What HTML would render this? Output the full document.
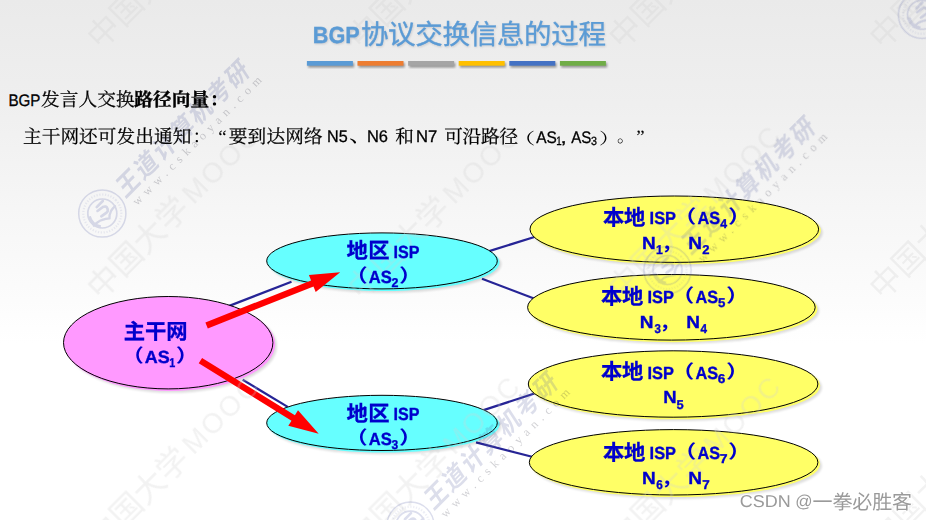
<!DOCTYPE html>
<html lang="zh-CN">
<head>
<meta charset="utf-8">
<title>BGP协议交换信息的过程</title>
<style>
html,body{margin:0;padding:0;background:#fff}
body{width:926px;height:520px;overflow:hidden;font-family:"Liberation Sans","Noto Sans CJK SC",sans-serif}
#slide{position:relative;width:926px;height:520px;overflow:hidden;
  background:linear-gradient(180deg,#eaeaea 0%,#efefef 20%,#f6f6f6 40%,#fbfbfb 55%,#ffffff 66%,#ffffff 100%)}
#slide svg{position:absolute;left:0;top:0;width:926px;height:520px;display:block}
#slide text{font-family:"Liberation Sans","Noto Sans CJK SC",sans-serif;text-rendering:geometricPrecision}
</style>
</head>
<body>
<div id="slide">
<svg width="926" height="520" viewBox="0 0 926 520">
<defs>
<filter id="sh" x="-10%" y="-20%" width="125%" height="150%"><feGaussianBlur stdDeviation="1.3"/></filter>
<filter id="esh" x="-10%" y="-20%" width="125%" height="150%"><feGaussianBlur stdDeviation="0.9"/></filter>
<filter id="tsh" x="-5%" y="-20%" width="110%" height="150%"><feGaussianBlur stdDeviation="0.8"/></filter>
</defs>
<line x1="228" y1="306.4" x2="291.5" y2="281.7" stroke="#262496" stroke-width="2.2"/>
<line x1="242.7" y1="379.8" x2="287.7" y2="406.9" stroke="#262496" stroke-width="2.2"/>
<line x1="486" y1="252.1" x2="536" y2="236.5" stroke="#262496" stroke-width="2.2"/>
<line x1="482" y1="278.7" x2="536" y2="299.2" stroke="#262496" stroke-width="2.2"/>
<line x1="482" y1="410.6" x2="536" y2="393.0" stroke="#262496" stroke-width="2.2"/>
<line x1="476" y1="442.4" x2="534" y2="457.2" stroke="#262496" stroke-width="2.2"/>
<ellipse cx="171.79999999999998" cy="346.09999999999997" rx="105.2" ry="46.7" fill="#000" opacity=".13" filter="url(#esh)"/>
<ellipse cx="385.6" cy="264.29999999999995" rx="115.8" ry="28.5" fill="#000" opacity=".13" filter="url(#esh)"/>
<ellipse cx="385.6" cy="426.29999999999995" rx="115.8" ry="28.1" fill="#000" opacity=".13" filter="url(#esh)"/>
<ellipse cx="677.9" cy="232.6" rx="144.8" ry="33.7" fill="#000" opacity=".13" filter="url(#esh)"/>
<ellipse cx="675.0" cy="310.7" rx="144.3" ry="33.3" fill="#000" opacity=".13" filter="url(#esh)"/>
<ellipse cx="676.7" cy="387.4" rx="145.3" ry="33.7" fill="#000" opacity=".13" filter="url(#esh)"/>
<ellipse cx="677.2" cy="465.7" rx="144.8" ry="33.2" fill="#000" opacity=".13" filter="url(#esh)"/>
<ellipse cx="170.0" cy="344.3" rx="105.2" ry="46.7" fill="#ff99ff"/>
<ellipse cx="383.8" cy="262.5" rx="115.8" ry="28.5" fill="#66ffff"/>
<ellipse cx="383.8" cy="424.5" rx="115.8" ry="28.1" fill="#66ffff"/>
<ellipse cx="676.0999999999999" cy="230.79999999999998" rx="144.8" ry="33.7" fill="#ffff66"/>
<ellipse cx="673.1999999999999" cy="308.90000000000003" rx="144.3" ry="33.3" fill="#ffff66"/>
<ellipse cx="674.9" cy="385.6" rx="145.3" ry="33.7" fill="#ffff66"/>
<ellipse cx="675.4" cy="463.90000000000003" rx="144.8" ry="33.2" fill="#ffff66"/>
<ellipse cx="168.2" cy="342.7" rx="104.7" ry="46.2" fill="#ff99ff" stroke="#000" stroke-width="1"/>
<ellipse cx="382" cy="260.9" rx="115.3" ry="28.0" fill="#66ffff" stroke="#000" stroke-width="1"/>
<ellipse cx="382" cy="422.9" rx="115.3" ry="27.6" fill="#66ffff" stroke="#000" stroke-width="1"/>
<ellipse cx="674.3" cy="229.2" rx="144.3" ry="33.2" fill="#ffff66" stroke="#000" stroke-width="1"/>
<ellipse cx="671.4" cy="307.3" rx="143.8" ry="32.8" fill="#ffff66" stroke="#000" stroke-width="1"/>
<ellipse cx="673.1" cy="384.0" rx="144.8" ry="33.2" fill="#ffff66" stroke="#000" stroke-width="1"/>
<ellipse cx="673.6" cy="462.3" rx="144.3" ry="32.7" fill="#ffff66" stroke="#000" stroke-width="1"/>
<polygon fill="#ff0000" points="207.8,328.5 313.5,286.4 315.7,291.9 340.2,272.3 308.9,274.9 311.1,280.4 205.4,322.5"/>
<polygon fill="#ff0000" points="198.7,363.3 291.5,420.7 288.3,425.8 318.7,433.8 298.0,410.2 294.9,415.3 202.1,357.9"/>
<g fill="#d2d2d2" opacity=".29">
<g transform="translate(171.7 -37.5) rotate(-45)">
<text x="-112.7" y="12.16" font-size="32" letter-spacing="0.2">中国大学</text>
<text x="21" y="10" font-size="28" letter-spacing="2.5">MOOC</text>
</g>
<g transform="translate(171.7 213.0) rotate(-45)">
<text x="-112.7" y="12.16" font-size="32" letter-spacing="0.2">中国大学</text>
<text x="21" y="10" font-size="28" letter-spacing="2.5">MOOC</text>
</g>
<g transform="translate(171.7 463.5) rotate(-45)">
<text x="-112.7" y="12.16" font-size="32" letter-spacing="0.2">中国大学</text>
<text x="21" y="10" font-size="28" letter-spacing="2.5">MOOC</text>
</g>
<g transform="translate(432.4 -37.5) rotate(-45)">
<text x="-112.7" y="12.16" font-size="32" letter-spacing="0.2">中国大学</text>
<text x="21" y="10" font-size="28" letter-spacing="2.5">MOOC</text>
</g>
<g transform="translate(432.4 213.0) rotate(-45)">
<text x="-112.7" y="12.16" font-size="32" letter-spacing="0.2">中国大学</text>
<text x="21" y="10" font-size="28" letter-spacing="2.5">MOOC</text>
</g>
<g transform="translate(432.4 463.5) rotate(-45)">
<text x="-112.7" y="12.16" font-size="32" letter-spacing="0.2">中国大学</text>
<text x="21" y="10" font-size="28" letter-spacing="2.5">MOOC</text>
</g>
<g transform="translate(693.1 -37.5) rotate(-45)">
<text x="-112.7" y="12.16" font-size="32" letter-spacing="0.2">中国大学</text>
<text x="21" y="10" font-size="28" letter-spacing="2.5">MOOC</text>
</g>
<g transform="translate(693.1 213.0) rotate(-45)">
<text x="-112.7" y="12.16" font-size="32" letter-spacing="0.2">中国大学</text>
<text x="21" y="10" font-size="28" letter-spacing="2.5">MOOC</text>
</g>
<g transform="translate(693.1 463.5) rotate(-45)">
<text x="-112.7" y="12.16" font-size="32" letter-spacing="0.2">中国大学</text>
<text x="21" y="10" font-size="28" letter-spacing="2.5">MOOC</text>
</g>
<g transform="translate(953.8 -37.5) rotate(-45)">
<text x="-112.7" y="12.16" font-size="32" letter-spacing="0.2">中国大学</text>
<text x="21" y="10" font-size="28" letter-spacing="2.5">MOOC</text>
</g>
<g transform="translate(953.8 213.0) rotate(-45)">
<text x="-112.7" y="12.16" font-size="32" letter-spacing="0.2">中国大学</text>
<text x="21" y="10" font-size="28" letter-spacing="2.5">MOOC</text>
</g>
<g transform="translate(953.8 463.5) rotate(-45)">
<text x="-112.7" y="12.16" font-size="32" letter-spacing="0.2">中国大学</text>
<text x="21" y="10" font-size="28" letter-spacing="2.5">MOOC</text>
</g>
</g>
<g transform="translate(102.3 213.5) rotate(-45)">
<g fill="none" stroke="#5a64aa" opacity=".21">
<circle r="23.6" stroke-width="1.5"/><circle r="19" stroke-width="2.2" stroke-dasharray="1.2 1.6" stroke-opacity=".5"/><circle r="14.5" stroke-width="1.7"/>
<path d="M9.2 -8.5L0.6 -8.5M-1.6 -5.2L5 -4.2Q8.6 -3 7.1 .3Q6 2.7 3.6 2.4L-2.7 1.3" stroke-width="2.6" stroke-linecap="round" stroke-linejoin="round"/>
<path d="M-14.6 2.6Q-8 2.6 -5.2 4.2Q-1 6.2 1.6 8.6Q4 5.6 8 4.4Q11 3.7 14.2 3.9" stroke-width="2.3" stroke-linecap="round" stroke-linejoin="round"/>
<path d="M-11.2 -7.2A13.3 13.3 0 0 0 -10.4 8.3" stroke-width="3.2"/>
</g>
<g fill="#5f68a4" fill-opacity=".215">
<text transform="translate(26.5 5.5) skewX(-12) scale(0.93 1)" font-size="25" font-weight="bold" letter-spacing="2.63">王道计算机考研</text>
</g>
<text x="30" y="19.5" font-family="Liberation Serif, serif" style="font-family:'Liberation Serif',serif" font-size="12" fill="#223" fill-opacity=".21" textLength="177" lengthAdjust="spacing">www.cskaoyan.com</text>
</g>
<g transform="translate(410.5 525.7) rotate(-45)">
<g fill="none" stroke="#5a64aa" opacity=".21">
<circle r="23.6" stroke-width="1.5"/><circle r="19" stroke-width="2.2" stroke-dasharray="1.2 1.6" stroke-opacity=".5"/><circle r="14.5" stroke-width="1.7"/>
<path d="M9.2 -8.5L0.6 -8.5M-1.6 -5.2L5 -4.2Q8.6 -3 7.1 .3Q6 2.7 3.6 2.4L-2.7 1.3" stroke-width="2.6" stroke-linecap="round" stroke-linejoin="round"/>
<path d="M-14.6 2.6Q-8 2.6 -5.2 4.2Q-1 6.2 1.6 8.6Q4 5.6 8 4.4Q11 3.7 14.2 3.9" stroke-width="2.3" stroke-linecap="round" stroke-linejoin="round"/>
<path d="M-11.2 -7.2A13.3 13.3 0 0 0 -10.4 8.3" stroke-width="3.2"/>
</g>
<g fill="#5f68a4" fill-opacity=".215">
<text transform="translate(26.5 5.5) skewX(-12) scale(0.93 1)" font-size="25" font-weight="bold" letter-spacing="2.63">王道计算机考研</text>
</g>
<text x="30" y="19.5" font-family="Liberation Serif, serif" style="font-family:'Liberation Serif',serif" font-size="12" fill="#223" fill-opacity=".21" textLength="177" lengthAdjust="spacing">www.cskaoyan.com</text>
</g>
<g transform="translate(667.5 270.0) rotate(-45)">
<g fill="none" stroke="#5a64aa" opacity=".21">
<circle r="23.6" stroke-width="1.5"/><circle r="19" stroke-width="2.2" stroke-dasharray="1.2 1.6" stroke-opacity=".5"/><circle r="14.5" stroke-width="1.7"/>
<path d="M9.2 -8.5L0.6 -8.5M-1.6 -5.2L5 -4.2Q8.6 -3 7.1 .3Q6 2.7 3.6 2.4L-2.7 1.3" stroke-width="2.6" stroke-linecap="round" stroke-linejoin="round"/>
<path d="M-14.6 2.6Q-8 2.6 -5.2 4.2Q-1 6.2 1.6 8.6Q4 5.6 8 4.4Q11 3.7 14.2 3.9" stroke-width="2.3" stroke-linecap="round" stroke-linejoin="round"/>
<path d="M-11.2 -7.2A13.3 13.3 0 0 0 -10.4 8.3" stroke-width="3.2"/>
</g>
<g fill="#5f68a4" fill-opacity=".215">
<text transform="translate(26.5 5.5) skewX(-12) scale(0.93 1)" font-size="25" font-weight="bold" letter-spacing="2.63">王道计算机考研</text>
</g>
<text x="30" y="19.5" font-family="Liberation Serif, serif" style="font-family:'Liberation Serif',serif" font-size="12" fill="#223" fill-opacity=".21" textLength="177" lengthAdjust="spacing">www.cskaoyan.com</text>
</g>
<g transform="translate(922.0 14.8) rotate(-45)">
<g fill="none" stroke="#5a64aa" opacity=".21">
<circle r="23.6" stroke-width="1.5"/><circle r="19" stroke-width="2.2" stroke-dasharray="1.2 1.6" stroke-opacity=".5"/><circle r="14.5" stroke-width="1.7"/>
<path d="M9.2 -8.5L0.6 -8.5M-1.6 -5.2L5 -4.2Q8.6 -3 7.1 .3Q6 2.7 3.6 2.4L-2.7 1.3" stroke-width="2.6" stroke-linecap="round" stroke-linejoin="round"/>
<path d="M-14.6 2.6Q-8 2.6 -5.2 4.2Q-1 6.2 1.6 8.6Q4 5.6 8 4.4Q11 3.7 14.2 3.9" stroke-width="2.3" stroke-linecap="round" stroke-linejoin="round"/>
<path d="M-11.2 -7.2A13.3 13.3 0 0 0 -10.4 8.3" stroke-width="3.2"/>
</g>
<g fill="#5f68a4" fill-opacity=".215">
<text transform="translate(26.5 5.5) skewX(-12) scale(0.93 1)" font-size="25" font-weight="bold" letter-spacing="2.63">王道计算机考研</text>
</g>
<text x="30" y="19.5" font-family="Liberation Serif, serif" style="font-family:'Liberation Serif',serif" font-size="12" fill="#223" fill-opacity=".21" textLength="177" lengthAdjust="spacing">www.cskaoyan.com</text>
</g>
<g opacity=".22" filter="url(#tsh)" transform="translate(0.7 0.9)">
<text transform="translate(312.85 42.70) scale(0.9286 1)" font-size="23.30" font-weight="bold" fill="#445">BGP</text>
<text x="360.91" y="43.64" font-size="27.5" letter-spacing="-0.3" fill="#445">协议交换信息的过程</text>
</g>
<text transform="translate(312.85 42.70) scale(0.9286 1)" font-size="23.30" font-weight="bold" fill="#5b9bd5" stroke="#5b9bd5" stroke-width=".3">BGP</text>
<text x="360.91" y="43.64" font-size="27.5" letter-spacing="-0.3" fill="#5b9bd5" stroke="#5b9bd5" stroke-width=".33">协议交换信息的过程</text>
<rect x="308.1" y="62.8" width="46" height="4.7" fill="#000" opacity=".38" filter="url(#sh)"/>
<rect x="358.7" y="62.8" width="46" height="4.7" fill="#000" opacity=".38" filter="url(#sh)"/>
<rect x="409.3" y="62.8" width="46" height="4.7" fill="#000" opacity=".38" filter="url(#sh)"/>
<rect x="459.9" y="62.8" width="46" height="4.7" fill="#000" opacity=".38" filter="url(#sh)"/>
<rect x="510.5" y="62.8" width="46" height="4.7" fill="#000" opacity=".38" filter="url(#sh)"/>
<rect x="561.1" y="62.8" width="46" height="4.7" fill="#000" opacity=".38" filter="url(#sh)"/>
<rect x="306.9" y="61" width="46" height="4.7" fill="#5b9bd5"/>
<rect x="357.5" y="61" width="46" height="4.7" fill="#ed7d31"/>
<rect x="408.1" y="61" width="46" height="4.7" fill="#a5a5a5"/>
<rect x="458.7" y="61" width="46" height="4.7" fill="#ffc000"/>
<rect x="509.3" y="61" width="46" height="4.7" fill="#4472c4"/>
<rect x="559.9" y="61" width="46" height="4.7" fill="#70ad47"/>
<text transform="translate(8.46 105.70) scale(0.9086 1)" font-size="16.70" font-weight="normal" fill="#000" stroke="#000" stroke-width=".3">BGP</text>
<text x="40.94" y="106.3" font-size="18.67" letter-spacing="0.08" fill="#000" stroke="#000" stroke-width=".26" style="font-family:'Liberation Serif','Noto Serif CJK SC',serif">发言人交换</text>
<text x="134.22" y="105.9" font-size="18.67" font-weight="bold" letter-spacing="0.13" fill="#000" stroke="#000" stroke-width=".4" style="font-family:'Liberation Serif','Noto Serif CJK SC',serif">路径向量</text>
<text x="209.4" y="105.9" font-size="18.67" font-weight="bold" fill="#000" style="font-family:'Liberation Serif','Noto Serif CJK SC',serif">：</text>
<text x="22.92" y="143.09" font-size="18.67" letter-spacing="0.08" fill="#000" stroke="#000" stroke-width=".26" style="font-family:'Liberation Serif','Noto Serif CJK SC',serif">主干网还可发出通知</text>
<text x="192.5" y="143.09" font-size="18.67" fill="#000" style="font-family:'Liberation Serif','Noto Serif CJK SC',serif">：</text>
<text x="218.2" y="142.5" font-size="18.86" fill="#000" style="font-family:'Liberation Serif','Noto Serif CJK SC',serif">“</text>
<text x="228.83" y="143.02" font-size="18.67" letter-spacing="0.13" fill="#000" stroke="#000" stroke-width=".26" style="font-family:'Liberation Serif','Noto Serif CJK SC',serif">要到达网络</text>
<text transform="translate(326.97 142.30) scale(0.9701 1)" font-size="16.70" font-weight="normal" fill="#000" stroke="#000" stroke-width=".3">N5</text>
<text transform="translate(348.95 141.6) scale(1.235 1)" font-size="19.68" fill="#000" style="font-family:'Liberation Serif','Noto Serif CJK SC',serif">、</text>
<text transform="translate(366.95 142.30) scale(0.9873 1)" font-size="16.70" font-weight="normal" fill="#000" stroke="#000" stroke-width=".3">N6</text>
<text x="395.27" y="143.01" font-size="18.67" fill="#000" stroke="#000" stroke-width=".26" style="font-family:'Liberation Serif','Noto Serif CJK SC',serif">和</text>
<text transform="translate(416.03 142.30) scale(0.9980 1)" font-size="16.70" font-weight="normal" fill="#000" stroke="#000" stroke-width=".3">N7</text>
<text x="444.13" y="143.01" font-size="18.67" letter-spacing="-0.22" fill="#000" stroke="#000" stroke-width=".26" style="font-family:'Liberation Serif','Noto Serif CJK SC',serif">可沿路径</text>
<text transform="translate(512.6 143.53) scale(1.457 1)" font-size="15.6" fill="#000" style="font-family:'Liberation Serif','Noto Serif CJK SC',serif">（</text>
<text transform="translate(536.17 142.50) scale(0.9265 1)" font-size="16.70" font-weight="normal" fill="#000" stroke="#000" stroke-width=".3">AS</text>
<text transform="translate(556.26 144.70) scale(0.8118 1)" font-size="12.00" font-weight="normal" fill="#000" stroke="#000" stroke-width=".3">1</text>
<text transform="translate(560.39 142.50) scale(1.3423 1)" font-size="16.70" font-weight="normal" fill="#000" stroke="#000" stroke-width=".3">,</text>
<text transform="translate(571.17 142.50) scale(0.9032 1)" font-size="16.70" font-weight="normal" fill="#000" stroke="#000" stroke-width=".3">AS</text>
<text transform="translate(590.89 144.70) scale(0.8964 1)" font-size="12.00" font-weight="normal" fill="#000" stroke="#000" stroke-width=".3">3</text>
<text transform="translate(599.06 143.53) scale(1.367 1)" font-size="15.6" fill="#000" style="font-family:'Liberation Serif','Noto Serif CJK SC',serif">）</text>
<text transform="translate(617.07 142.44) scale(0.98 1)" font-size="17.79" fill="#000" style="font-family:'Liberation Serif','Noto Serif CJK SC',serif">。</text>
<text x="636.3" y="142.5" font-size="18.86" fill="#000" style="font-family:'Liberation Serif','Noto Serif CJK SC',serif">”</text>
<text x="123.69" y="339.03" font-size="21.33" font-weight="bold" fill="#0000cc" stroke="#0000cc" stroke-width=".3">主干网</text>
<text transform="translate(121.31 361.86) scale(1.2256 1)" font-size="18.44" font-weight="bold" fill="#0000cc">（</text>
<text transform="translate(144.75 362.80) scale(1.0204 1)" font-size="17.60" font-weight="bold" fill="#0000cc" stroke="#0000cc" stroke-width=".35">AS</text>
<text transform="translate(169.32 366.90) scale(0.8395 1)" font-size="12.80" font-weight="bold" fill="#0000cc" stroke="#0000cc" stroke-width=".35">1</text>
<text transform="translate(175.65 361.86) scale(1.263 1)" font-size="18.44" font-weight="bold" fill="#0000cc">）</text>
<text x="346.55" y="258.37" font-size="21.33" font-weight="bold" letter-spacing="0.47" fill="#0000cc" stroke="#0000cc" stroke-width=".3">地区</text>
<text transform="translate(393.52 257.80) scale(0.9139 1)" font-size="17.60" font-weight="bold" fill="#0000cc" stroke="#0000cc" stroke-width=".35">ISP</text>
<text transform="translate(344.69 281.76) scale(1.2446 1)" font-size="18.44" font-weight="bold" fill="#0000cc">（</text>
<text transform="translate(368.79 282.70) scale(0.9433 1)" font-size="17.60" font-weight="bold" fill="#0000cc" stroke="#0000cc" stroke-width=".35">AS</text>
<text transform="translate(391.47 286.60) scale(0.9736 1)" font-size="12.80" font-weight="bold" fill="#0000cc" stroke="#0000cc" stroke-width=".35">2</text>
<text transform="translate(398.95 281.76) scale(1.263 1)" font-size="18.44" font-weight="bold" fill="#0000cc">）</text>
<text x="346.55" y="420.57" font-size="21.33" font-weight="bold" letter-spacing="0.47" fill="#0000cc" stroke="#0000cc" stroke-width=".3">地区</text>
<text transform="translate(393.52 420.00) scale(0.9139 1)" font-size="17.60" font-weight="bold" fill="#0000cc" stroke="#0000cc" stroke-width=".35">ISP</text>
<text transform="translate(344.69 443.96) scale(1.2446 1)" font-size="18.44" font-weight="bold" fill="#0000cc">（</text>
<text transform="translate(368.79 444.90) scale(0.9433 1)" font-size="17.60" font-weight="bold" fill="#0000cc" stroke="#0000cc" stroke-width=".35">AS</text>
<text transform="translate(391.62 448.80) scale(0.9430 1)" font-size="12.80" font-weight="bold" fill="#0000cc" stroke="#0000cc" stroke-width=".35">3</text>
<text transform="translate(398.95 443.96) scale(1.263 1)" font-size="18.44" font-weight="bold" fill="#0000cc">）</text>
<text x="603.09" y="224.61" font-size="21.33" font-weight="bold" letter-spacing="-0.33" fill="#0000cc" stroke="#0000cc" stroke-width=".3">本地</text>
<text transform="translate(649.60 223.70) scale(0.9327 1)" font-size="17.60" font-weight="bold" fill="#0000cc" stroke="#0000cc" stroke-width=".35">ISP</text>
<text transform="translate(672.83 222.76) scale(1.2815 1)" font-size="18.44" font-weight="bold" fill="#0000cc">（</text>
<text transform="translate(697.59 223.70) scale(0.9261 1)" font-size="17.60" font-weight="bold" fill="#0000cc" stroke="#0000cc" stroke-width=".35">AS</text>
<text transform="translate(720.21 227.80) scale(0.9626 1)" font-size="12.80" font-weight="bold" fill="#0000cc" stroke="#0000cc" stroke-width=".35">4</text>
<text transform="translate(728.04 222.76) scale(1.2815 1)" font-size="18.44" font-weight="bold" fill="#0000cc">）</text>
<text transform="translate(641.93 248.60) scale(1.0825 1)" font-size="17.60" font-weight="bold" fill="#0000cc" stroke="#0000cc" stroke-width=".35">N</text>
<text transform="translate(656.03 253.80) scale(0.9570 1)" font-size="12.80" font-weight="bold" fill="#0000cc" stroke="#0000cc" stroke-width=".35">1</text>
<text transform="translate(661.55 249.99) scale(1.06 1)" font-size="18.95" font-weight="bold" fill="#0000cc">，</text>
<text transform="translate(688.33 248.60) scale(1.0825 1)" font-size="17.60" font-weight="bold" fill="#0000cc" stroke="#0000cc" stroke-width=".35">N</text>
<text transform="translate(702.35 253.80) scale(1.0223 1)" font-size="12.80" font-weight="bold" fill="#0000cc" stroke="#0000cc" stroke-width=".35">2</text>
<text x="600.99" y="303.81" font-size="21.33" font-weight="bold" letter-spacing="-0.33" fill="#0000cc" stroke="#0000cc" stroke-width=".3">本地</text>
<text transform="translate(647.50 302.90) scale(0.9327 1)" font-size="17.60" font-weight="bold" fill="#0000cc" stroke="#0000cc" stroke-width=".35">ISP</text>
<text transform="translate(670.73 301.96) scale(1.2815 1)" font-size="18.44" font-weight="bold" fill="#0000cc">（</text>
<text transform="translate(695.49 302.90) scale(0.9261 1)" font-size="17.60" font-weight="bold" fill="#0000cc" stroke="#0000cc" stroke-width=".35">AS</text>
<text transform="translate(717.89 307.00) scale(1.0363 1)" font-size="12.80" font-weight="bold" fill="#0000cc" stroke="#0000cc" stroke-width=".35">5</text>
<text transform="translate(725.94 301.96) scale(1.2815 1)" font-size="18.44" font-weight="bold" fill="#0000cc">）</text>
<text transform="translate(639.83 327.80) scale(1.0825 1)" font-size="17.60" font-weight="bold" fill="#0000cc" stroke="#0000cc" stroke-width=".35">N</text>
<text transform="translate(654.44 333.00) scale(0.8959 1)" font-size="12.80" font-weight="bold" fill="#0000cc" stroke="#0000cc" stroke-width=".35">3</text>
<text transform="translate(659.45 329.19) scale(1.06 1)" font-size="18.95" font-weight="bold" fill="#0000cc">，</text>
<text transform="translate(686.23 327.80) scale(1.0825 1)" font-size="17.60" font-weight="bold" fill="#0000cc" stroke="#0000cc" stroke-width=".35">N</text>
<text transform="translate(700.52 333.00) scale(0.9189 1)" font-size="12.80" font-weight="bold" fill="#0000cc" stroke="#0000cc" stroke-width=".35">4</text>
<text x="600.99" y="379.41" font-size="21.33" font-weight="bold" letter-spacing="-0.33" fill="#0000cc" stroke="#0000cc" stroke-width=".3">本地</text>
<text transform="translate(647.50 378.50) scale(0.9327 1)" font-size="17.60" font-weight="bold" fill="#0000cc" stroke="#0000cc" stroke-width=".35">ISP</text>
<text transform="translate(670.73 377.56) scale(1.2815 1)" font-size="18.44" font-weight="bold" fill="#0000cc">（</text>
<text transform="translate(695.49 378.50) scale(0.9261 1)" font-size="17.60" font-weight="bold" fill="#0000cc" stroke="#0000cc" stroke-width=".35">AS</text>
<text transform="translate(717.80 382.60) scale(1.0667 1)" font-size="12.80" font-weight="bold" fill="#0000cc" stroke="#0000cc" stroke-width=".35">6</text>
<text transform="translate(725.94 377.56) scale(1.2815 1)" font-size="18.44" font-weight="bold" fill="#0000cc">）</text>
<text transform="translate(663.36 403.40) scale(1.0535 1)" font-size="17.60" font-weight="bold" fill="#0000cc" stroke="#0000cc" stroke-width=".35">N</text>
<text transform="translate(676.50 408.60) scale(1.0049 1)" font-size="12.80" font-weight="bold" fill="#0000cc" stroke="#0000cc" stroke-width=".35">5</text>
<text x="603.09" y="459.81" font-size="21.33" font-weight="bold" letter-spacing="-0.33" fill="#0000cc" stroke="#0000cc" stroke-width=".3">本地</text>
<text transform="translate(649.60 458.90) scale(0.9327 1)" font-size="17.60" font-weight="bold" fill="#0000cc" stroke="#0000cc" stroke-width=".35">ISP</text>
<text transform="translate(672.83 457.96) scale(1.2815 1)" font-size="18.44" font-weight="bold" fill="#0000cc">（</text>
<text transform="translate(697.59 458.90) scale(0.9261 1)" font-size="17.60" font-weight="bold" fill="#0000cc" stroke="#0000cc" stroke-width=".35">AS</text>
<text transform="translate(719.80 463.00) scale(1.0989 1)" font-size="12.80" font-weight="bold" fill="#0000cc" stroke="#0000cc" stroke-width=".35">7</text>
<text transform="translate(728.04 457.96) scale(1.2815 1)" font-size="18.44" font-weight="bold" fill="#0000cc">）</text>
<text transform="translate(641.93 483.80) scale(1.0825 1)" font-size="17.60" font-weight="bold" fill="#0000cc" stroke="#0000cc" stroke-width=".35">N</text>
<text transform="translate(656.37 489.00) scale(0.9212 1)" font-size="12.80" font-weight="bold" fill="#0000cc" stroke="#0000cc" stroke-width=".35">6</text>
<text transform="translate(661.55 485.19) scale(1.06 1)" font-size="18.95" font-weight="bold" fill="#0000cc">，</text>
<text transform="translate(688.33 483.80) scale(1.0825 1)" font-size="17.60" font-weight="bold" fill="#0000cc" stroke="#0000cc" stroke-width=".35">N</text>
<text transform="translate(702.22 489.00) scale(1.0489 1)" font-size="12.80" font-weight="bold" fill="#0000cc" stroke="#0000cc" stroke-width=".35">7</text>
<g stroke="#fff" stroke-width="2.2" stroke-linejoin="round" opacity=".9">
<text transform="translate(739.79 507.10) scale(1.0461 1)" font-size="17.20" font-weight="normal" fill="#fff">CSDN</text>
<text transform="translate(795.16 507.10) scale(0.9917 1)" font-size="17.20" font-weight="normal" fill="#fff">@</text>
<text x="812.52" y="508.99" font-size="20" letter-spacing="-0.1" fill="#fff">一拳必胜客</text>
</g>
<text transform="translate(739.79 507.10) scale(1.0461 1)" font-size="17.20" font-weight="normal" fill="#9a9a9a">CSDN</text>
<text transform="translate(795.16 507.10) scale(0.9917 1)" font-size="17.20" font-weight="normal" fill="#9a9a9a">@</text>
<text x="812.52" y="508.99" font-size="20" letter-spacing="-0.1" fill="#9a9a9a">一拳必胜客</text>
</svg>
</div>
</body>
</html>
